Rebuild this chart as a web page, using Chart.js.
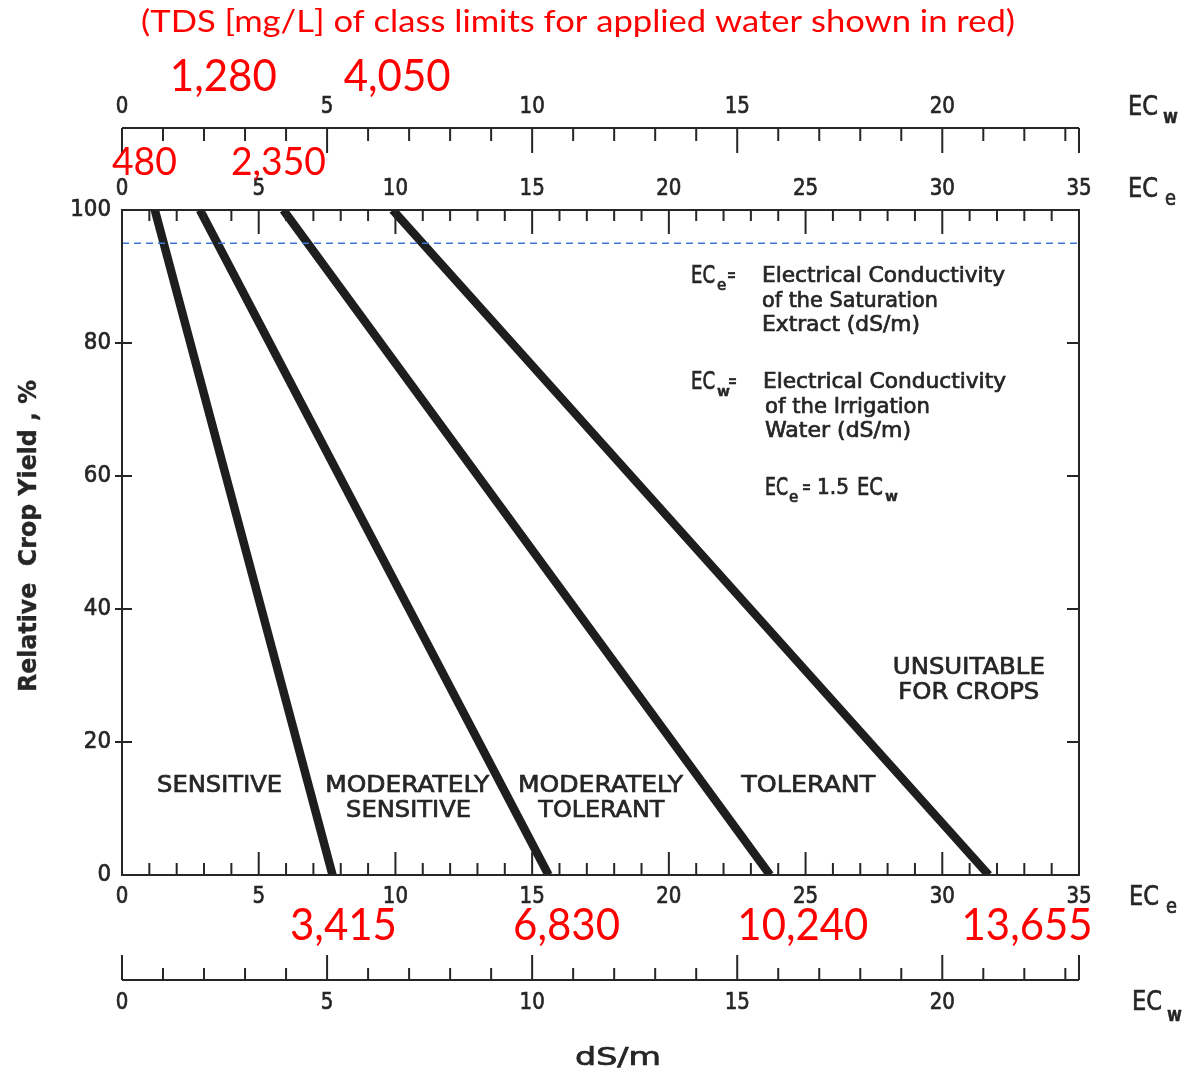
<!DOCTYPE html>
<html lang="en">
<head>
  <meta charset="utf-8">
  <title>Relative crop yield vs. salinity (ECe / ECw)</title>
  <script src="https://cdn.jsdelivr.net/npm/chart.js@4/dist/chart.umd.min.js"></script>
  <style>
    html, body { margin: 0; padding: 0; background: #fff; }
    canvas { display: block; }
  </style>
</head>
<body>
  <canvas id="c" width="1186" height="1074"></canvas>
  <script>
    // --- data ---
    var ecTickLabels = ['0', '5', '10', '15', '20', '25', '30', '35'];
    var ecwTickLabels = ['0', '5', '10', '15', '20'];
    var yieldTickLabels = ['0', '20', '40', '60', '80', '100'];
    var ecMax = 35;
    var eceOverEcw = 1.5;

    var classNames = ['SENSITIVE', 'MODERATELY SENSITIVE', 'MODERATELY TOLERANT', 'TOLERANT'];
    var yieldEnds = [100, 0];
    var ecAtFullYield = [1.2, 2.85, 5.9, 9.9];
    var ecAtZeroYield = [7.7, 15.6, 23.7, 31.7];
    var thresholdYield = 95;

    var tdsTopEce = ['480', '2,350'];
    var tdsTopEcw = ['1,280', '4,050'];
    var tdsBottom = ['3,415', '6,830', '10,240', '13,655'];

    var INK = '#262626';
    var RED = '#ff0000';
    var BLACK_FONT = '"DejaVu Sans", sans-serif';
    var RED_FONT = 'Lato, "Open Sans", sans-serif';

    var datasets = [{
      label: 'threshold',
      data: [{ x: 0, y: thresholdYield }, { x: ecMax, y: thresholdYield }],
      borderColor: '#3f76d0', borderWidth: 1.6, borderDash: [7, 5],
      pointRadius: 0, order: 0
    }];
    classNames.forEach(function (name, i) {
      datasets.push({
        label: name,
        data: [{ x: ecAtFullYield[i], y: yieldEnds[0] }, { x: ecAtZeroYield[i], y: yieldEnds[1] }],
        borderColor: '#1e1e1e', borderWidth: 8.5, borderCapStyle: 'butt',
        pointRadius: 0, order: 1
      });
    });

    // text helper: optional target width squeezes the glyphs horizontally
    function txt(ctx, s, x, y, o) {
      ctx.save();
      ctx.font = (o.weight || 'normal') + ' ' + o.size + 'px ' + (o.family || BLACK_FONT);
      ctx.fillStyle = o.color || INK;
      ctx.textBaseline = 'middle';
      ctx.textAlign = 'left';
      var w = ctx.measureText(s).width;
      var sx = o.width ? o.width / w : (o.sx || 1);
      var ww = w * sx;
      var left = o.align === 'center' ? x - ww / 2 : (o.align === 'right' ? x - ww : x);
      ctx.translate(left, y);
      ctx.scale(sx, 1);
      ctx.fillText(s, 0, 0);
      if (!o.family) {
        // old drafting pens: a touch heavier than the plain font
        ctx.strokeStyle = o.color || INK;
        ctx.lineWidth = o.weight === 'bold' ? 0.4 : 0.7;
        ctx.strokeText(s, 0, 0);
      }
      ctx.restore();
      return left + ww;
    }

    function seg(ctx, x1, y1, x2, y2) {
      ctx.beginPath();
      ctx.moveTo(x1, y1);
      ctx.lineTo(x2, y2);
      ctx.stroke();
    }

    function ecLabel(ctx, x, y, sub, subDy) {
      var r = txt(ctx, 'EC', x, y, { size: 27, width: 30 });
      if (sub === 'w') txt(ctx, sub, r + 5, y + subDy, { size: 19, weight: 'bold', sx: 0.85 });
      else txt(ctx, sub, r + 7, y + subDy, { size: 21, sx: 0.85 });
    }

    var decor = {
      id: 'decor',
      afterDatasetsDraw: function (chart) {
        var ctx = chart.ctx, a = chart.chartArea;
        var x = chart.scales.x, xw = chart.scales.xw, y = chart.scales.y;
        var wMax = ecMax / eceOverEcw;
        var topW = a.top - 82, botW = a.bottom + 105;
        var tick = { size: 23, sx: 0.86, align: 'center' };

        ctx.save();
        ctx.strokeStyle = INK;
        ctx.lineWidth = 2;
        ctx.strokeRect(a.left, a.top, a.right - a.left, a.bottom - a.top);

        // ECe ticks on top and bottom of the plot box
        for (var v = 0; v <= ecMax; v++) {
          var px = x.getPixelForValue(v), major = v % 5 === 0;
          seg(ctx, px, a.top, px, a.top + (major ? 24 : 11));
          seg(ctx, px, a.bottom, px, a.bottom - (major ? 23 : 12));
        }
        ecTickLabels.forEach(function (l) {
          var px = x.getPixelForValue(+l);
          txt(ctx, l, px, a.top - 21, tick);
          txt(ctx, l, px, a.bottom + 22, tick);
        });

        // ECw scales above and below
        seg(ctx, xw.getPixelForValue(0), topW, xw.getPixelForValue(wMax), topW);
        seg(ctx, xw.getPixelForValue(0), botW, xw.getPixelForValue(wMax), botW);
        var wv = [];
        for (var k = 0; k <= Math.floor(wMax); k++) wv.push(k);
        wv.push(wMax);
        wv.forEach(function (v) {
          var px = xw.getPixelForValue(v);
          var major = v % 5 === 0 || v === wMax;
          seg(ctx, px, topW, px, topW + (major ? 25 : 13));
          seg(ctx, px, botW, px, botW - (major ? 25 : 12));
        });
        ecwTickLabels.forEach(function (l) {
          var px = xw.getPixelForValue(+l);
          txt(ctx, l, px, topW - 21, tick);
          txt(ctx, l, px, botW + 23, tick);
        });

        // yield ticks
        yieldTickLabels.forEach(function (l) {
          var py = y.getPixelForValue(+l);
          if (+l > 0 && +l < 100) {
            seg(ctx, a.left - 7, py, a.left + 10, py);
            seg(ctx, a.right - 12, py, a.right, py);
          }
          txt(ctx, l, a.left - 11, py, { size: 23, sx: 0.93, align: 'right' });
        });
        ctx.restore();

        // axis names
        ecLabel(ctx, 1128, topW - 20, 'w', 10);
        ecLabel(ctx, 1128, a.top - 20, 'e', 10);
        ecLabel(ctx, 1129, a.bottom + 23, 'e', 10);
        ecLabel(ctx, 1132, botW + 23, 'w', 13);
        txt(ctx, 'dS/m', 618, 1058, { size: 25, width: 86, align: 'center' });

        ctx.save();
        ctx.translate(29, 536);
        ctx.rotate(-Math.PI / 2);
        txt(ctx, 'Relative  Crop Yield , %', 0, 0, { size: 25, weight: 'bold', width: 312, align: 'center' });
        ctx.restore();

        // definitions
        var r = txt(ctx, 'EC', 691, 277, { size: 24, width: 24 });
        txt(ctx, 'e', r + 2, 286, { size: 15 });
        txt(ctx, '=', 727, 276, { size: 19, width: 9 });
        txt(ctx, 'Electrical Conductivity', 762, 277, { size: 21, width: 243 });
        txt(ctx, 'of the Saturation', 762, 302, { size: 21, width: 176 });
        txt(ctx, 'Extract (dS/m)', 762, 326, { size: 21, width: 158 });
        r = txt(ctx, 'EC', 691, 383, { size: 24, width: 24 });
        txt(ctx, 'w', r + 2, 392, { size: 14, weight: 'bold' });
        txt(ctx, '=', 728, 382, { size: 19, width: 9 });
        txt(ctx, 'Electrical Conductivity', 763, 383, { size: 21, width: 243 });
        txt(ctx, 'of the Irrigation', 765, 408, { size: 21, width: 165 });
        txt(ctx, 'Water (dS/m)', 765, 432, { size: 21, width: 146 });
        r = txt(ctx, 'EC', 765, 489, { size: 24, width: 23 });
        txt(ctx, 'e', r + 1, 498, { size: 15 });
        txt(ctx, '=', 802, 488, { size: 19, width: 9 });
        txt(ctx, '1.5', 817, 489, { size: 21, width: 32 });
        r = txt(ctx, 'EC', 857, 489, { size: 24, width: 26 });
        txt(ctx, 'w', r + 2, 497, { size: 14, weight: 'bold' });

        // class names, anchored in data units
        var cls = { size: 23, align: 'center' };
        var yA = y.getPixelForValue(13.4), yB = y.getPixelForValue(9.6);
        txt(ctx, 'SENSITIVE', x.getPixelForValue(3.57), yA, Object.assign({ width: 125 }, cls));
        txt(ctx, 'MODERATELY', x.getPixelForValue(10.43), yA, Object.assign({ width: 164 }, cls));
        txt(ctx, 'SENSITIVE', x.getPixelForValue(10.48), yB, Object.assign({ width: 125 }, cls));
        txt(ctx, 'MODERATELY', x.getPixelForValue(17.5), yA, Object.assign({ width: 165 }, cls));
        txt(ctx, 'TOLERANT', x.getPixelForValue(17.53), yB, Object.assign({ width: 126 }, cls));
        txt(ctx, 'TOLERANT', x.getPixelForValue(25.1), yA, Object.assign({ width: 134 }, cls));
        txt(ctx, 'UNSUITABLE', x.getPixelForValue(30.97), y.getPixelForValue(31.1), Object.assign({ width: 152 }, cls));
        txt(ctx, 'FOR CROPS', x.getPixelForValue(30.97), y.getPixelForValue(27.4), Object.assign({ width: 141 }, cls));

        // red TDS annotations
        txt(ctx, '(TDS [mg/L] of class limits for applied water shown in red)', 578, 22,
          { size: 30, width: 874, align: 'center', color: RED, family: RED_FONT });
        var redBig = { size: 44, align: 'center', color: RED, family: RED_FONT };
        var redMid = { size: 38, align: 'center', color: RED, family: RED_FONT };
        [2.47, 6.71].forEach(function (v, i) {
          txt(ctx, tdsTopEcw[i], xw.getPixelForValue(v), topW - 51, Object.assign({ width: 107 }, redBig));
        });
        [0.82, 5.72].forEach(function (v, i) {
          txt(ctx, tdsTopEce[i], x.getPixelForValue(v), a.top - 47, Object.assign({ width: i ? 95 : 65 }, redMid));
        });
        [8.1, 16.26, 24.9, 33.1].forEach(function (v, i) {
          txt(ctx, tdsBottom[i], x.getPixelForValue(v), a.bottom + 51, Object.assign({ width: i < 2 ? 107 : 131 }, redBig));
        });
      }
    };

    var ctx = document.getElementById('c');
    var chart = new Chart(ctx, {
      type: 'scatter',
      data: { datasets: datasets },
      options: {
        responsive: false,
        devicePixelRatio: 1,
        animation: false,
        showLine: true,
        layout: { padding: { left: 122, right: 107, top: 210, bottom: 199 } },
        plugins: { legend: { display: false }, tooltip: { enabled: false } },
        scales: {
          x: { type: 'linear', min: 0, max: ecMax, display: false },
          xw: { type: 'linear', axis: 'x', position: 'top', min: 0, max: ecMax / eceOverEcw, display: false },
          y: { type: 'linear', min: 0, max: 100, display: false }
        }
      },
      plugins: [decor]
    });
  </script>
</body>
</html>
